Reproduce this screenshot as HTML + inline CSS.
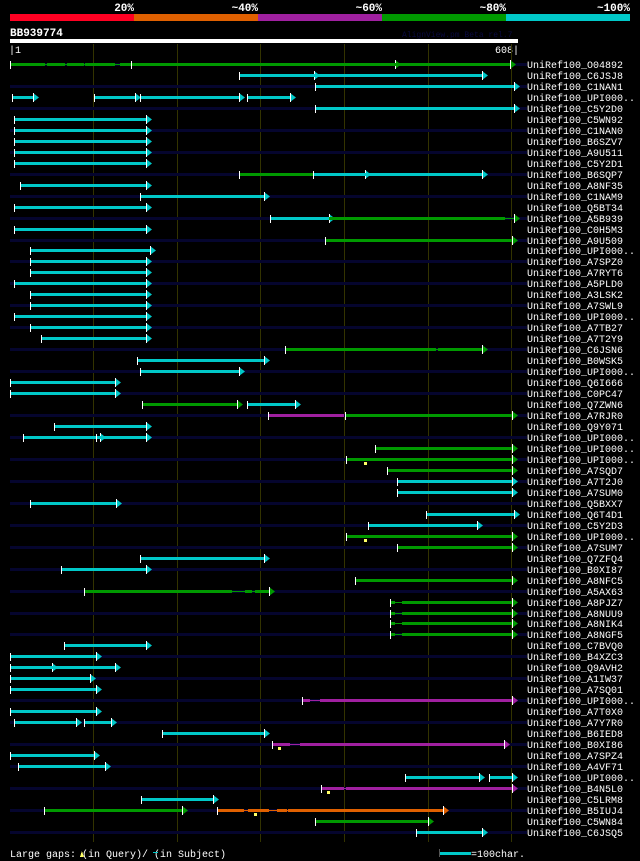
<!DOCTYPE html>
<html><head><meta charset="utf-8">
<style>
html,body{margin:0;padding:0;background:#000;}
svg{display:block;}
text{font-family:"Liberation Mono",monospace;}
</style></head>
<body>
<svg id="chart" width="640" height="861" viewBox="0 0 640 861" xmlns="http://www.w3.org/2000/svg" shape-rendering="crispEdges">
<rect x="0" y="0" width="640" height="861" fill="#000"/>
<g>
<rect x="10" y="14" width="124" height="7" fill="#ff0022"/>
<rect x="134" y="14" width="124" height="7" fill="#e06000"/>
<rect x="258" y="14" width="124" height="7" fill="#a020a0"/>
<rect x="382" y="14" width="124" height="7" fill="#009900"/>
<rect x="506" y="14" width="124" height="7" fill="#00c8c8"/>
<text x="134" y="11" fill="#fff" font-size="11" font-weight="bold" text-anchor="end">20%</text>
<text x="258" y="11" fill="#fff" font-size="11" font-weight="bold" text-anchor="end">~40%</text>
<text x="382" y="11" fill="#fff" font-size="11" font-weight="bold" text-anchor="end">~60%</text>
<text x="506" y="11" fill="#fff" font-size="11" font-weight="bold" text-anchor="end">~80%</text>
<text x="630" y="11" fill="#fff" font-size="11" font-weight="bold" text-anchor="end">~100%</text>
</g>
<text x="10" y="36" fill="#fff" font-size="11" font-weight="bold">BB939774</text>
<text x="402" y="37" fill="#0a0a40" font-size="8">AlignView.pm Beta rel.7</text>
<rect x="10" y="39" width="508" height="4" fill="#fff"/>
<text x="9" y="53" fill="#fff" font-size="10">|1</text>
<text x="519" y="53" fill="#fff" font-size="10" text-anchor="end">608|</text>
<g id="grid"></g>
<g id="rows"></g>
<g>
<text x="10" y="857" fill="#fff" font-size="10">Large gaps:  (in Query)/  (in Subject)</text>
<polygon points="80,857 82,851 84,857" fill="#ffff66"/>
<rect x="153" y="852" width="5" height="1" fill="#00c8c8"/>
<line x1="439.5" y1="849" x2="439.5" y2="857" stroke="#555" stroke-width="1"/>
<rect x="440" y="852" width="31" height="3" fill="#00c8c8"/>
<text x="471" y="857" fill="#fff" font-size="10">=100char.</text>
</g>
</svg>
<script>
const labels = ["O04892","C6JSJ8","C1NAN1","UPI000..","C5Y2D0","C5WN92","C1NAN0","B6SZV7","A9U511","C5Y2D1","B6SQP7","A8NF35","C1NAM9","Q5BT34","A5B939","C0H5M3","A9U509","UPI000..","A7SPZ0","A7RYT6","A5PLD0","A3LSK2","A7SWL9","UPI000..","A7TB27","A7T2Y9","C6JSN6","B0WSK5","UPI000..","Q6I666","C0PC47","Q7ZWN6","A7RJR0","Q9Y071","UPI000..","UPI000..","UPI000..","A7SQD7","A7T2J0","A7SUM0","Q5BXX7","Q6T4D1","C5Y2D3","UPI000..","A7SUM7","Q7ZFQ4","B0XI87","A8NFC5","A5AX63","A8PJZ7","A8NUU9","A8NIK4","A8NGF5","C7BVQ0","B4XZC3","Q9AVH2","A1IW37","A7SQ01","UPI000..","A7T0X0","A7Y7R0","B6IED8","B0XI86","A7SPZ4","A4VF71","UPI000..","B4N5L0","C5LRM8","B5IUJ4","C5WN84","C6JSQ5"];
// segments per row: [start, end, color, startTick, endArrow]; lowercase color = thin connector
const hits = [
[[1,43,"G",1,0],[43,45,"g"],[45,67,"G"],[67,69,"g"],[69,89,"G"],[89,91,"g"],[91,126,"G"],[126,132,"g"],[132,145,"G"],[145,461,"G",1,1],[461,598,"G",0,1]],
[[275,364,"C",1,1],[364,565,"C",0,1]],
[[366,603,"C",1,1]],
[[3,29,"C",1,1],[101,150,"C",1,1],[156,275,"C",1,1],[284,335,"C",1,1]],
[[366,603,"C",1,1]],
[[6,164,"C",1,1]],[[6,164,"C",1,1]],[[6,164,"C",1,1]],[[6,164,"C",1,1]],[[6,164,"C",1,1]],
[[275,363,"G",1,0],[363,425,"C",1,1],[425,565,"C",0,1]],
[[13,164,"C",1,1]],
[[156,304,"C",1,1]],
[[6,164,"C",1,1]],
[[312,382,"C",1,1],[382,593,"G",0,0],[593,603,"g",0,1]],
[[6,164,"C",1,1]],
[[377,601,"G",1,1]],
[[25,168,"C",1,1]],
[[25,164,"C",1,1]],[[25,164,"C",1,1]],
[[6,164,"C",1,1]],
[[25,164,"C",1,1]],[[25,164,"C",1,1]],
[[6,164,"C",1,1]],
[[25,164,"C",1,1]],
[[38,164,"C",1,1]],
[[330,510,"G",1,0],[510,512,"g"],[512,565,"G",0,1]],
[[153,304,"C",1,1]],
[[156,275,"C",1,1]],
[[1,126,"C",1,1]],[[1,126,"C",1,1]],
[[159,272,"G",1,1],[284,341,"C",1,1]],
[[309,400,"M",1,0],[401,601,"G",1,1]],
[[54,164,"C",1,1]],
[[16,104,"C",1,0],[104,109,"C",1,1],[109,164,"C",0,1]],
[[437,601,"G",1,1]],
[[403,601,"G",1,1]],
[[451,601,"G",1,1]],
[[463,601,"C",1,1]],[[463,601,"C",1,1]],
[[25,128,"C",1,1]],
[[498,603,"C",1,1]],
[[429,559,"C",1,1]],
[[403,601,"G",1,1]],
[[463,601,"G",1,1]],
[[156,304,"C",1,1]],
[[62,164,"C",1,1]],
[[413,601,"G",1,1]],
[[90,266,"G",1,0],[266,282,"g"],[282,290,"G"],[290,294,"g"],[294,310,"G",0,1]],
[[455,461,"G",1,0],[461,469,"g"],[469,601,"G",0,1]],
[[455,461,"G",1,0],[461,469,"g"],[469,601,"G",0,1]],
[[455,461,"G",1,0],[461,469,"g"],[469,601,"G",0,1]],
[[455,461,"G",1,0],[461,469,"g"],[469,601,"G",0,1]],
[[66,164,"C",1,1]],
[[1,104,"C",1,1]],
[[1,51,"C",1,1],[51,127,"C",0,1]],
[[1,96,"C",1,1]],
[[1,104,"C",1,1]],
[[350,360,"M",1,0],[360,371,"m"],[371,601,"M",0,1]],
[[1,104,"C",1,1]],
[[6,80,"C",1,1],[89,122,"C",1,1]],
[[183,304,"C",1,1]],
[[314,336,"M",1,0],[336,347,"m"],[347,591,"M",0,1]],
[[1,101,"C",1,1]],
[[10,115,"C",1,1]],
[[473,561,"C",1,1],[573,601,"C",1,1]],
[[373,400,"M",1,0],[400,402,"m"],[402,601,"M",0,1]],
[[157,244,"C",1,1]],
[[42,206,"G",1,1],[248,281,"O",1,0],[281,285,"o"],[285,310,"O"],[310,320,"o"],[320,332,"O"],[332,333,"o"],[333,518,"O",0,1]],
[[366,500,"G",1,1]],
[[486,565,"C",1,1]]
];
const gapRows = [36,43,62,66,68];
const gapPos = [425,425,322,381,294];
const gridTicks = [100,200,300,400,500,600];

const colors = {C:"#00c8c8",G:"#009900",M:"#a020a0",O:"#e06000"};
const NS = "http://www.w3.org/2000/svg";
const xScale = c => Math.round(10 + (c - 1) * 508 / 607);
const yScale = i => Math.round(64 + i * 10.97);
function mk(tag, attrs, parent){const e=document.createElementNS(NS,tag);for(const k in attrs)e.setAttribute(k,attrs[k]);parent.appendChild(e);return e;}

const grid = document.getElementById('grid');
gridTicks.forEach(t=>{
  const l = mk('rect',{x:xScale(t),y:44,width:1,height:798,fill:"#333300"},grid);
  
  
});
const rowsG = document.getElementById('rows');
labels.forEach((lab,i)=>{
  const y = yScale(i);
  const g = mk('g',{},rowsG);
  
  
  if(i%2===0){
    const s = mk('rect',{x:10,y:y-1,width:517,height:3,fill:"#05052e"},g);
    
    
  }
  (hits[i]||[]).forEach(seg=>{
    const [a,b,c,tick,arr]=seg;
    const x1=xScale(a), x2=xScale(b);
    const thin = c===c.toLowerCase();
    const col = colors[c.toUpperCase()];
    const r = mk('rect',{x:x1,y:thin?y:y-1,width:Math.max(1,x2-x1),height:thin?1:3,fill:col},g);
    
    
    if(arr){
      const p = mk('polygon',{points:`${x2},${y-4} ${x2+6},${y+0.5} ${x2},${y+5}`,fill:col,'shape-rendering':'auto'},g);
      
      
      const w = mk('rect',{x:x2,y:y-4,width:1,height:9,fill:"#fff"},g);
      
      
    }
    if(tick){
      const t = mk('rect',{x:x1,y:y-3,width:1,height:8,fill:"#fff"},g);
      
      
    }
  });
  const tx = mk('text',{x:527,y:y+4,fill:"#fff","font-size":10},g);
  tx.textContent = 'UniRef100_'+lab;
  
  
});
gapRows.forEach((r,k)=>{
  const x = xScale(gapPos[k]), y = yScale(r);
  const m = mk('rect',{x:x-1,y:y+3,width:3,height:3,fill:"#ffff66"},rowsG);
  
  
});
</script>
</body></html>
